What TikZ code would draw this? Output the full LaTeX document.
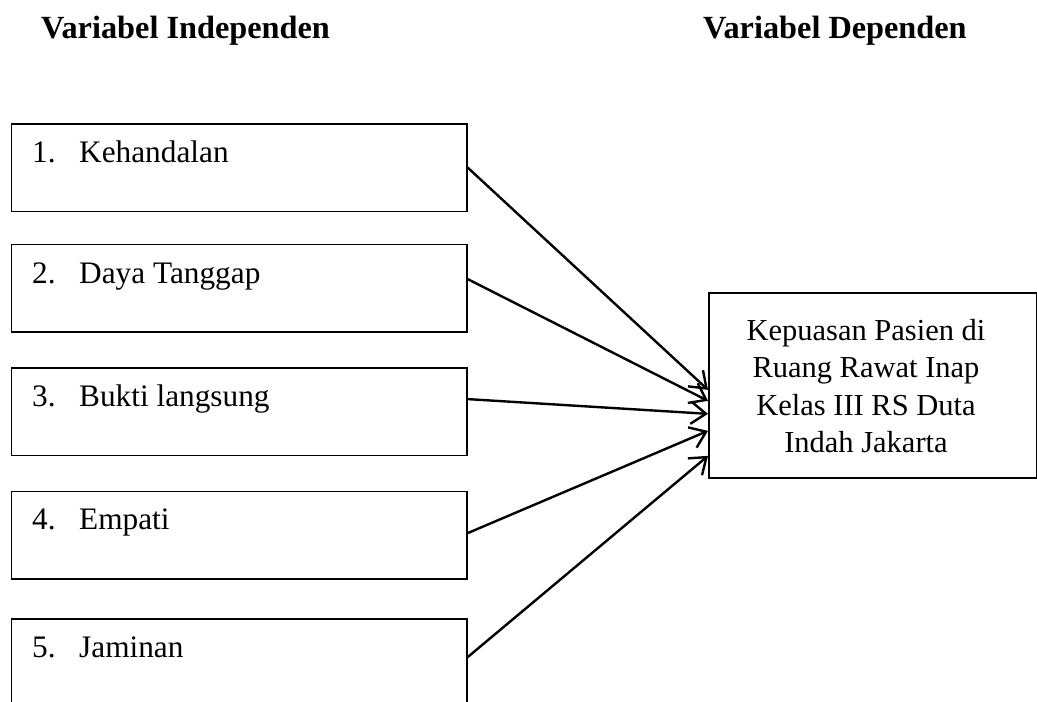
\documentclass[tikz,border=0pt]{standalone}
\usepackage{fontspec}
\setmainfont{Liberation Serif}
\usetikzlibrary{arrows.meta}
\begin{document}
\begin{tikzpicture}[x=1pt,y=-1pt,
  box/.style={draw,line width=1.7pt,minimum width=455.5pt,minimum height=87.5pt,inner sep=0pt,anchor=north west},
  lbl/.style={anchor=base west,inner sep=0pt,font=\fontsize{31.3}{37}\selectfont},
  ttl/.style={anchor=base west,inner sep=0pt,font=\fontsize{32.3}{37}\selectfont\bfseries},
  arr/.style={line width=2.4pt,-{Straight Barb[length=15pt,width=22pt,line width=2.4pt]}}
]
\useasboundingbox (0,0) rectangle (1037,702);
\clip (0,0) rectangle (1037,702);
\fill[white] (0,0) rectangle (1037,702);

\node[ttl] (t1) at (41,38) {Variabel Independen};
\node[ttl] (t2) at (703,38) {Variabel Dependen};

\node[box] (b1) at (10.5,123) {};
\node[box] (b2) at (10.5,243.5) {};
\node[box] (b3) at (10.5,367) {};
\node[box] (b4) at (10.5,490.5) {};
\node[box] (b5) at (10.5,618) {};

\node[lbl] (l1) at (32,162) {\makebox[47pt][l]{1.}Kehandalan};
\node[lbl] (l2) at (32,283) {\makebox[47pt][l]{2.}Daya Tanggap};
\node[lbl] (l3) at (32,406) {\makebox[47pt][l]{3.}Bukti langsung};
\node[lbl] (l4) at (32,529) {\makebox[47pt][l]{4.}Empati};
\node[lbl] (l5) at (32,657) {\makebox[47pt][l]{5.}Jaminan};

\node[draw,line width=1.7pt,minimum width=328pt,minimum height=185pt,inner sep=0pt,anchor=north west] (r) at (708,292) {};
\node[align=center,inner sep=0pt,font=\fontsize{30.5}{37.5}\selectfont] (rt) at (866,386) {Kepuasan Pasien di\\Ruang Rawat Inap\\Kelas III RS Duta\\Indah Jakarta};

\draw[arr] (b1.east) -- ([yshift=-4.5pt]r.west);
\draw[arr] ([yshift=9pt]b2.east) -- ([yshift=-15.5pt]r.west);
\draw[arr] ([yshift=12.5pt]b3.east) -- ([yshift=-28.5pt]r.west);
\draw[arr] ([yshift=2pt]b4.east) -- ([yshift=-45.5pt]r.west);
\draw[arr] ([yshift=5.5pt]b5.east) -- ([yshift=-70.5pt]r.west);
\end{tikzpicture}
\end{document}
